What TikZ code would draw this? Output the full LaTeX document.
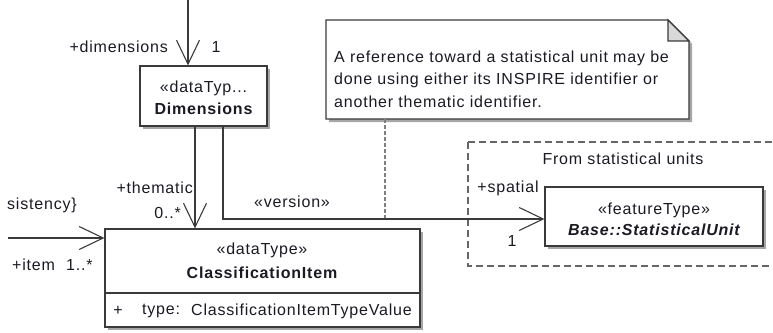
\documentclass[tikz,border=0pt]{standalone}
\usepackage{fontspec}
\setmainfont{Liberation Sans}[LetterSpace=5]
\usetikzlibrary{arrows.meta,shadows}
\definecolor{txt}{HTML}{1A1A24}
\definecolor{ln}{HTML}{3A3A3A}
\begin{document}
\begin{tikzpicture}[x=1pt,y=-1pt,
  every node/.style={font=\fontsize{16}{18}\selectfont, text=txt, inner sep=0pt},
  boxshadow/.style={drop shadow={shadow xshift=3pt,shadow yshift=-3pt,fill=black!35,opacity=1}},
  classbox/.style={draw=ln, line width=1.1pt, fill=white, boxshadow, rectangle},
  assoc/.style={draw=ln, line width=1.1pt, -{Straight Barb[length=24pt,width=23pt,line width=1.1pt]}},
  plain/.style={draw=ln, line width=1.1pt},
  notelink/.style={draw=gray, line width=1.1pt, dash pattern=on 4pt off 2pt},
  pkg/.style={draw=black!60, line width=1.1pt, dash pattern=on 7pt off 4pt}
]
\useasboundingbox (0,0) rectangle (773,332);

% package frame
\draw[pkg] (468,142) -- (790,142) (468,142) -- (468,266) -- (790,266);
\node (pkglabel) at (623,159) {From statistical units};

% note
\fill[black!35] (329,23) -- (671,23) -- (692,44) -- (692,122) -- (329,122) -- cycle;
\draw[plain, fill=white] (326,20) -- (668,20) -- (689,41) -- (689,119) -- (326,119) -- cycle;
\draw[plain, fill=black!15] (668,20) -- (668,41) -- (689,41) -- cycle;
\coordinate (note) at (507.5,119);
\node[anchor=west, align=left, font=\fontsize{16}{22.5}\selectfont] (notetext) at (334,79)
  {A reference toward a statistical unit may be\\done using either its INSPIRE identifier or\\another thematic identifier.};

% classes
\node[classbox, minimum width=127pt, minimum height=60pt] (dim) at (203.5,96) {};
\node (dimst) at (203.5,88) {«dataTyp...};
\node[font=\fontsize{16}{18}\selectfont\bfseries] (dimname) at (203.5,109) {Dimensions};

\node[classbox, minimum width=315pt, minimum height=98pt] (ci) at (262.5,278) {};
\draw[plain] (ci.west |- 0,293) -- (ci.east |- 0,293);
\node (cist) at (262,250) {«dataType»};
\node[font=\fontsize{16}{18}\selectfont\bfseries] (ciname) at (262,273) {ClassificationItem};
\node (plus) at (118,311) {+};
\node[anchor=west] (typelbl) at (142,311) {type:};
\node[anchor=west] (typeval) at (191,311) {ClassificationItemTypeValue};

\node[classbox, minimum width=218pt, minimum height=59pt] (su) at (654,216.5) {};
\node (sust) at (654,210) {«featureType»};
\node[font=\fontsize{16}{18}\selectfont\bfseries\itshape] (suname) at (654,230) {Base::StatisticalUnit};

% connectors
\coordinate (dtop) at (188,0);
\draw[assoc] (dtop) -- (dtop |- dim.north);
\node[anchor=east] (dimrole) at (168,47) {+dimensions};
\node (dimmult) at (216,47) {1};

\coordinate (thx) at (195,0);
\draw[assoc] (dim.south -| thx) -- (ci.north -| thx);
\node[anchor=east] (throle) at (193,188) {+thematic};
\node[anchor=east] (thmult) at (181,213) {0..*};

\coordinate (vx) at (223,0);
\draw[assoc] (dim.south -| vx) |- ([yshift=-2.5pt]su.west);
\node (version) at (292,202) {«version»};
\node (sprole) at (508,188) {+spatial};
\node (spmult) at (512,241) {1};

\coordinate (nx) at (385,0);
\coordinate (nend) at (385,218);
\draw[notelink] (note -| nx) -- (nend);

\coordinate (itemstart) at (8,238);
\draw[assoc] (itemstart) -- (itemstart -| ci.west);
\node[anchor=west] (cons) at (7,205) {sistency\}};
\node[anchor=west] (itemrole) at (12,265) {+item};
\node[anchor=west] (itemmult) at (66,265) {1..*};
\end{tikzpicture}
\end{document}
